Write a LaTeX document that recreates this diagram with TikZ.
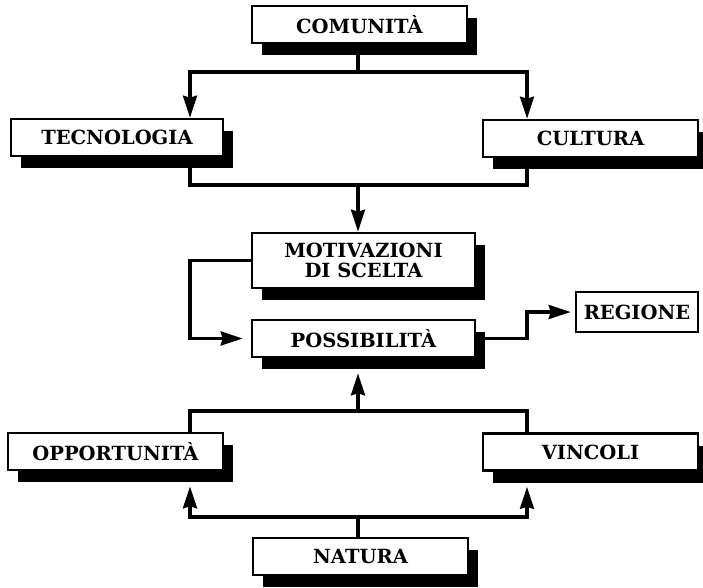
\documentclass[tikz,border=0pt]{standalone}
\usepackage{fontspec}
\setmainfont{DejaVu Serif}
\usetikzlibrary{arrows.meta,shadows}

\begin{document}
\begin{tikzpicture}[x=1pt,y=-1pt,font=\fontsize{19.5}{20.5}\selectfont\bfseries,
        box/.style={draw,line width=2.6pt,fill=white,minimum height=37pt,align=center,
          drop shadow={shadow xshift=10pt,shadow yshift=-12pt,fill=black,opacity=1}},
        plainbox/.style={draw,line width=2.6pt,fill=white,minimum height=40pt},
        conn/.style={draw,line width=3.2pt},
        connarrow/.style={conn,-{Stealth[length=22pt,width=14pt,inset=2pt]}}]
        \useasboundingbox (0,0) rectangle (703,587);
        % vertical lanes used by the connectors
        \coordinate (lft) at (190,0);
        \coordinate (rgt) at (527,0);
        \coordinate (topsplit) at (358,72);
        \coordinate (topjoin) at (358,185);
        \coordinate (botjoin) at (358,411);
        \coordinate (botsplit) at (358,517);

        \node[box,minimum width=215pt] (com) at (359.5,24.5) {COMUNITÀ};
        \node[box,minimum width=212pt] (tec) at (117,137.5) {TECNOLOGIA};
        \node[box,minimum width=215pt] (cul) at (590.5,138.5) {CULTURA};
        \node[box,minimum width=223pt,minimum height=55pt] (mot) at (363.5,260.5) {MOTIVAZIONI\\DI SCELTA};
        \node[box,minimum width=223pt] (pos) at (363.5,338.5) {POSSIBILITÀ};
        \node[plainbox,minimum width=122pt] (reg) at (637,312) {REGIONE};
        \node[box,minimum width=215pt] (opp) at (115.5,451.5) {OPPORTUNITÀ};
        \node[box,minimum width=215pt] (vin) at (590.5,452) {VINCOLI};
        \node[box,minimum width=215pt] (nat) at (360.5,556.5) {NATURA};

        % top part
        \draw[conn] (topsplit |- com.south) -- (topsplit);
        \draw[connarrow] (topsplit) -| (lft |- tec.north);
        \draw[connarrow] (topsplit) -| (rgt |- cul.north);
        \draw[conn] (lft |- tec.south) |- (topjoin) -| (rgt |- cul.south);
        \draw[connarrow] (topjoin) -- (topjoin |- mot.north);
        \draw[connarrow] (mot.west) -- (lft |- mot.west) |- ([xshift=-8pt]pos.west);
        \draw[connarrow] (pos.east) -- (rgt |- pos.east) |- ([xshift=-4pt]reg.west);

        % bottom part
        \draw[conn] (botsplit |- nat.north) -- (botsplit);
        \draw[connarrow] (botsplit) -| ([yshift=-15pt]lft |- opp.south);
        \draw[connarrow] (botsplit) -| ([yshift=-15pt]rgt |- vin.south);
        \draw[conn] (lft |- opp.north) |- (botjoin) -| (rgt |- vin.north);
        \draw[connarrow] (botjoin) -- ([yshift=-15pt]botjoin |- pos.south);
      \end{tikzpicture}
\end{document}
